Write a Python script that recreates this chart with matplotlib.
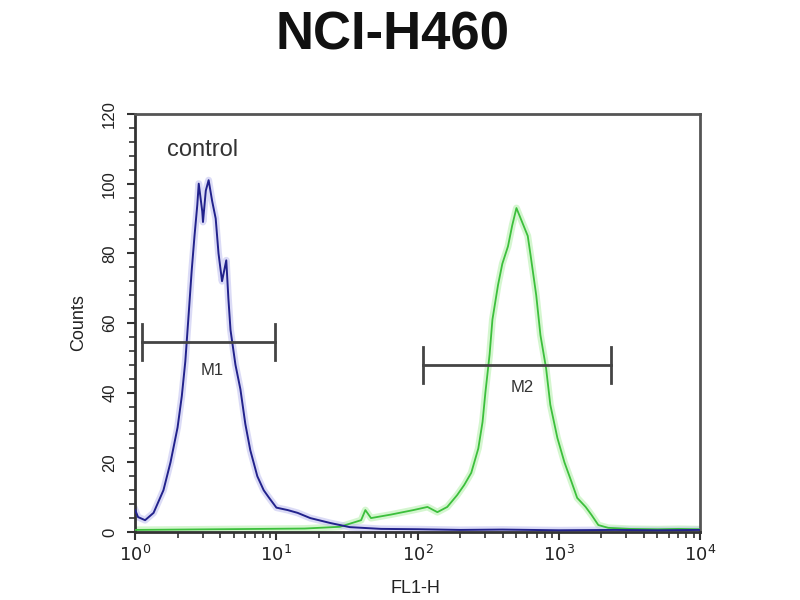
import numpy as np
import matplotlib
matplotlib.use('Agg')
from matplotlib import pyplot as plt
from matplotlib.ticker import FixedLocator, MultipleLocator

# control histogram (blue), x in decades of FL1-H
control_log = [0.0, 0.02, 0.07, 0.13, 0.2, 0.25, 0.3, 0.33, 0.355, 0.376, 0.40, 0.42,
               0.44, 0.45, 0.475, 0.48, 0.50, 0.52, 0.545, 0.57, 0.59, 0.615, 0.645,
               0.66, 0.675, 0.71, 0.745, 0.78, 0.815, 0.865, 0.91, 0.945, 1.0, 1.08,
               1.15, 1.24, 1.38, 1.52, 1.74, 2.0, 2.3, 2.6, 3.0, 3.4, 3.7, 4.0]
control_counts = [6.3, 4.3, 3.4, 5.5, 12, 20, 30, 39, 49, 61, 75, 85,
                  94, 100, 92, 89, 98, 101, 95, 90, 80, 72, 78,
                  67, 58, 48, 41, 31, 23.5, 16, 12, 10, 7, 6.3,
                  5.5, 4, 2.6, 1.4, 0.9, 0.8, 0.6, 0.7, 0.5, 0.6, 0.5, 0.6]

# sample histogram (green)
sample_log = [0.0, 0.3, 0.6, 0.9, 1.2, 1.45, 1.6, 1.63, 1.67, 1.81, 1.97, 2.07, 2.14,
              2.21, 2.28, 2.33, 2.38, 2.43, 2.46, 2.48, 2.51, 2.53, 2.57, 2.60, 2.64,
              2.67, 2.70, 2.74, 2.78, 2.80, 2.84, 2.87, 2.91, 2.94, 2.99, 3.04, 3.09,
              3.13, 3.19, 3.23, 3.28, 3.35, 3.5, 3.7, 3.85, 4.0]
sample_counts = [0.6, 0.7, 0.8, 0.9, 1.0, 1.5, 3.4, 6.3, 4, 5, 6.3, 7.2, 5.7,
                 7.2, 10.6, 13.5, 17, 24, 31.6, 40, 51, 61, 71, 77, 82,
                 88, 93, 89, 85, 79.5, 68, 56.5, 47, 36.5, 27, 20, 14.4,
                 9.8, 7.2, 5, 2, 1.2, 0.9, 0.8, 0.9, 0.8]

# markers: (name, left decade, right decade, height, label decade, label height)
markers = [('M1', 0.05, 0.99, 54.5, 0.546, 46.5),
           ('M2', 2.04, 3.37, 48.0, 2.74, 41.6)]
x_ticks = [1, 10, 100, 1000, 10000]
x_labels = ['$10^{0}$', '$10^{1}$', '$10^{2}$', '$10^{3}$', '$10^{4}$']

plt.rcParams['font.family'] = ['Liberation Sans', 'DejaVu Sans']

fig = plt.figure(figsize=(8, 6), dpi=100)
ax = fig.add_axes([0.169, 0.1133, 0.706, 0.6967])

cx = 10 ** np.array(control_log)
sx = 10 ** np.array(sample_log)
ax.plot(sx, sample_counts, color='#b8f0b0', lw=5, alpha=0.6, zorder=2)
ax.plot(sx, sample_counts, color='#3cbf3c', lw=1.3, zorder=3)
ax.plot(cx, control_counts, color='#c4c4f0', lw=5, alpha=0.6, zorder=2)
ax.plot(cx, control_counts, color='#22228c', lw=1.4, zorder=4)

for name, lo, hi, h, lx, ly in markers:
    ax.plot([10 ** lo, 10 ** hi], [h, h], color='#444444', lw=2, zorder=5)
    for e in (lo, hi):
        ax.plot([10 ** e, 10 ** e], [h - 5.2, h + 5.2], color='#444444', lw=2, zorder=5)
    ax.text(10 ** lx, ly, name, ha='center', va='center', fontsize=12, color='#333333')

ax.text(10 ** 0.48, 109.7, 'control', ha='center', va='center', fontsize=17, color='#333333')

ax.set_xscale('log')
ax.set_xlim(1, 10000)
ax.set_ylim(0, 120)
ax.xaxis.set_major_locator(FixedLocator(x_ticks))
ax.set_xticklabels(x_labels, fontsize=13, color='#222222')
ax.yaxis.set_major_locator(MultipleLocator(20))
ax.yaxis.set_minor_locator(MultipleLocator(4))
for lab in ax.get_yticklabels():
    lab.set_rotation(90)
    lab.set_va('center')
    lab.set_fontsize(12)
    lab.set_color('#222222')
ax.tick_params(axis='both', which='major', direction='out', length=6, width=1.5, color='#333333')
ax.tick_params(axis='both', which='minor', direction='out', length=4, width=1.2, color='#333333')
ax.tick_params(axis='y', pad=7)
ax.tick_params(axis='x', pad=3)

for s in ax.spines.values():
    s.set_linewidth(2)
    s.set_color('#333333')
ax.spines['top'].set_color('#555555')
ax.spines['right'].set_color('#555555')

ax.set_ylabel('Counts', fontsize=13, color='#222222')
ax.yaxis.set_label_coords(-0.085, 0.5)
ax.set_xlabel('FL1-H', fontsize=13, color='#222222')
ax.xaxis.set_label_coords(0.497, -0.115)

fig.text(0.491, 0.94, 'NCI-H460', ha='center', va='center', fontsize=38,
         fontweight='bold', color='#111111')

fig.savefig('out.png', dpi=100, facecolor='white')
